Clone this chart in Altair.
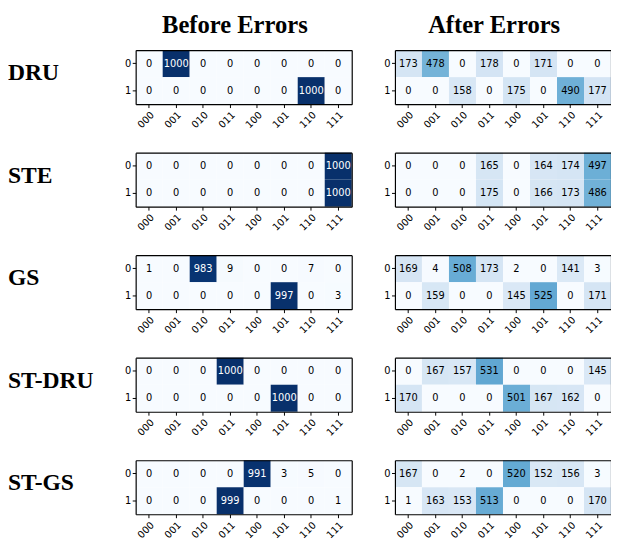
import altair as alt
import pandas as pd

methods = ["DRU", "STE", "GS", "ST-DRU", "ST-GS"]
states = ["000", "001", "010", "011", "100", "101", "110", "111"]
bits = ["0", "1"]

before_dru = [[0, 1000, 0, 0, 0, 0, 0, 0], [0, 0, 0, 0, 0, 0, 1000, 0]]
before_ste = [[0, 0, 0, 0, 0, 0, 0, 1000], [0, 0, 0, 0, 0, 0, 0, 1000]]
before_gs = [[1, 0, 983, 9, 0, 0, 7, 0], [0, 0, 0, 0, 0, 997, 0, 3]]
before_stdru = [[0, 0, 0, 1000, 0, 0, 0, 0], [0, 0, 0, 0, 0, 1000, 0, 0]]
before_stgs = [[0, 0, 0, 0, 991, 3, 5, 0], [0, 0, 0, 999, 0, 0, 0, 1]]

after_dru = [[173, 478, 0, 178, 0, 171, 0, 0], [0, 0, 158, 0, 175, 0, 490, 177]]
after_ste = [[0, 0, 0, 165, 0, 164, 174, 497], [0, 0, 0, 175, 0, 166, 173, 486]]
after_gs = [[169, 4, 508, 173, 2, 0, 141, 3], [0, 159, 0, 0, 145, 525, 0, 171]]
after_stdru = [[0, 167, 157, 531, 0, 0, 0, 145], [170, 0, 0, 0, 501, 167, 162, 0]]
after_stgs = [[167, 0, 2, 0, 520, 152, 156, 3], [1, 163, 153, 513, 0, 0, 0, 170]]

before_all = [before_dru, before_ste, before_gs, before_stdru, before_stgs]
after_all = [after_dru, after_ste, after_gs, after_stdru, after_stgs]

col_titles = ["Before Errors", "After Errors"]

blues = ["#f7fbff", "#deebf7", "#c6dbef", "#9ecae1", "#6baed6",
         "#4292c6", "#2171b5", "#08519c", "#08306b"]
blue_domain = [0, 125, 250, 375, 500, 625, 750, 875, 1000]

PW, PH = 220, 55


def panel(values, title=None):
    recs = []
    for r in range(2):
        for c in range(8):
            recs.append({"r": bits[r], "c": states[c], "v": values[r][c]})
    df = pd.DataFrame(recs)
    base = alt.Chart(df)
    xs = alt.Scale(domain=states, paddingInner=0, paddingOuter=0)
    ys = alt.Scale(domain=bits, paddingInner=0, paddingOuter=0)
    rect = base.mark_rect().encode(
        x=alt.X("c:O", scale=xs,
                axis=alt.Axis(title=None, labelAngle=-45, orient="bottom", zindex=1)),
        y=alt.Y("r:O", scale=ys,
                axis=alt.Axis(title=None, labelAngle=0, orient="left", zindex=1,
                              labelPadding=1.5)),
        color=alt.Color("v:Q", legend=None,
                        scale=alt.Scale(domain=blue_domain, range=blues, interpolate="rgb")),
    )
    text = base.mark_text(font="DejaVu Sans", fontSize=10).encode(
        x=alt.X("c:O", scale=xs,
                axis=alt.Axis(title=None, orient="top", labels=False, ticks=False, zindex=1)),
        y=alt.Y("r:O", scale=ys,
                axis=alt.Axis(title=None, orient="right", labels=False, ticks=False, zindex=1)),
        text="v:Q",
        color=alt.when(alt.datum.v > 700).then(alt.value("white")).otherwise(alt.value("black")),
    )
    ch = alt.layer(rect, text).resolve_axis(x="independent", y="independent")
    if title:
        ch = ch.properties(width=PW, height=PH, title=alt.TitleParams(
            text=title, font="Liberation Serif", fontSize=25, fontWeight="bold",
            anchor="middle", dx=-9, offset=12.5, color="black"))
    else:
        ch = ch.properties(width=PW, height=PH)
    return ch


def label(name):
    return alt.Chart(pd.DataFrame({"t": [name]})).mark_text(
        font="Liberation Serif", fontSize=24, fontWeight="bold",
        align="left", baseline="alphabetic", color="black"
    ).encode(text="t:N", x=alt.value(0), y=alt.value(30.5)).properties(width=85.7, height=PH)


rows = []
for i, m in enumerate(methods):
    t0 = col_titles[0] if i == 0 else None
    t1 = col_titles[1] if i == 0 else None
    rows.append(alt.hconcat(label(m), panel(before_all[i], t0), panel(after_all[i], t1),
                            spacing=44, bounds="flush"))

# the flush rows have zero layout height, so the spacing is the row pitch
chart = alt.vconcat(*rows, spacing=104.4, bounds="flush", padding=0).configure_view(
    strokeWidth=0
).configure_axis(
    domainColor="black", tickColor="black", tickSize=3.5, labelFont="DejaVu Sans",
    labelFontSize=10, labelColor="black", labelPadding=2, domainWidth=1.2
)

chart.save("out.html", embed_options={"renderer": "svg", "actions": False})
